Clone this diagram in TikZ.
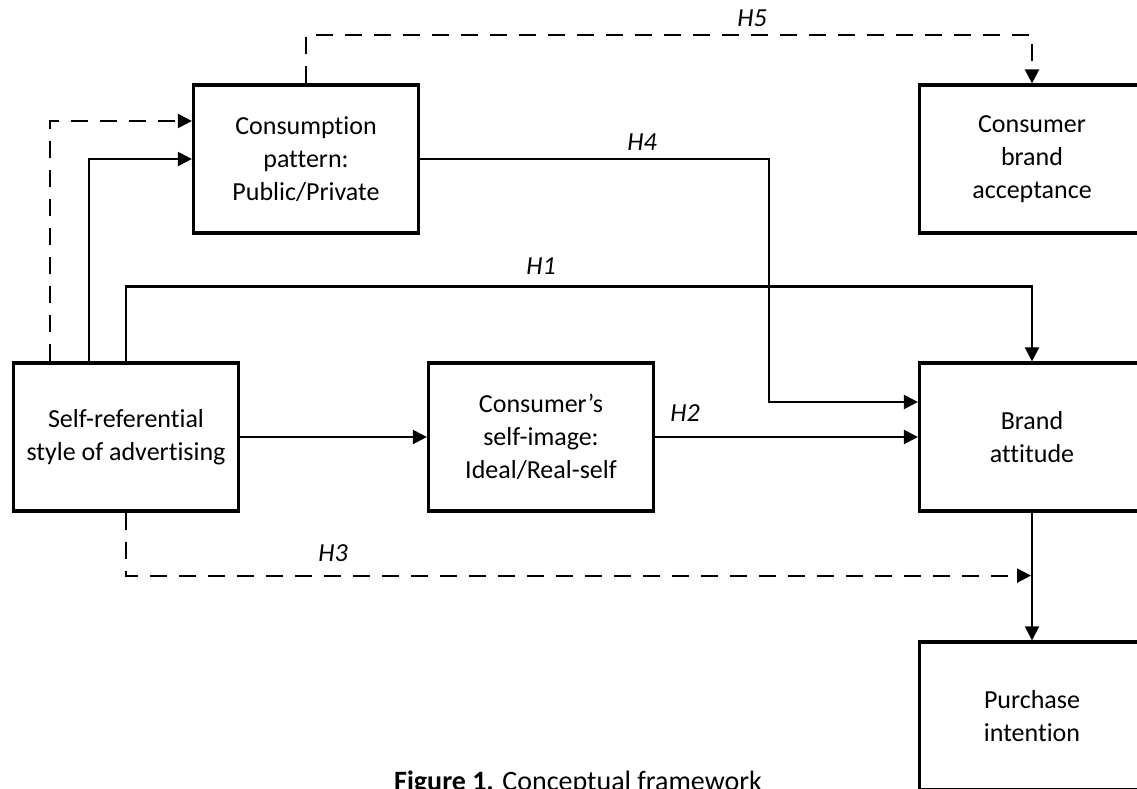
\documentclass[tikz,border=0pt]{standalone}
\usepackage{fontspec}
\setmainfont{Carlito}[Ligatures=NoCommon]
\usetikzlibrary{arrows.meta,calc}
\begin{document}
\begin{tikzpicture}[x=1pt,y=-1pt,
  box/.style={draw,line width=3.2pt,minimum width=225pt,minimum height=148pt,align=center,inner sep=0pt,font=\fontsize{26}{33}\selectfont},
  conn/.style={line width=2.2pt,-{Triangle[length=14pt,width=14pt]}},
  dsh/.style={dash pattern=on 17pt off 12pt},
  hlab/.style={font=\fontsize{26}{30}\selectfont\itshape,inner sep=0pt}]
\useasboundingbox (0,0) rectangle (1137,789);
\begin{scope}
\clip (0,0) rectangle (1137,789);
\node[box] (cons) at (306,159) {Consumption\\pattern:\\Public/Private};
\node[box] (self) at (126,437) {Self-referential\\style of advertising};
\node[box] (img) at (541,437) {Consumer's\\self-image:\\Ideal/Real-self};
\node[box] (acc) at (1032,159) {Consumer\\brand\\acceptance};
\node[box] (att) at (1032,437) {Brand\\attitude};
\node[box] (pur) at (1032,716) {Purchase\\intention};

\coordinate (h4turn) at (769,159);
\coordinate (h3end) at ($(att.south)+(-1,63)$);

\draw[conn,dsh] (cons.north) -- ++(0,-48) -| (acc.north);
\draw[conn,dsh] ($(self.north)+(-76,0)$) |- ($(cons.west)+(0,-38)$);
\draw[conn] ($(self.north)+(-37,0)$) |- (cons.west);
\draw[conn] (self.north) -- ++(0,-75) -| (att.north);
\draw[conn] (cons.east) -- (h4turn) |- ($(att.west)+(0,-35)$);
\draw[conn] (self.east) -- (img.west);
\draw[conn] (img.east) -- (att.west);
\draw[conn,dsh] (self.south) |- (h3end);
\draw[conn] (att.south) -- (pur.north);

\node[hlab] (h5) at (752,18) {H5};
\node[hlab] (h4) at (642,142) {H4};
\node[hlab] (h1) at (541,266) {H1};
\node[hlab] (h2) at (685,413) {H2};
\node[hlab] (h3) at (333,553) {H3};

\node[anchor=base,font=\fontsize{28}{32}\selectfont,inner sep=0pt] (cap) at (578,790) {\textbf{Figure 1.} Conceptual framework};
\end{scope}
\end{tikzpicture}
\end{document}
